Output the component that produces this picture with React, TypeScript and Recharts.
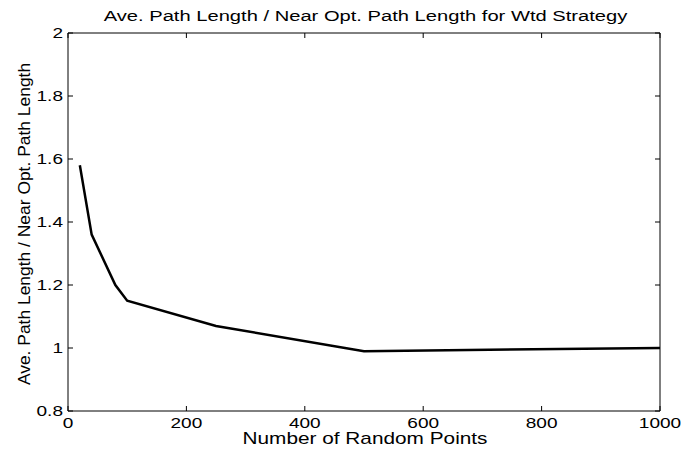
import React from 'react';
import { LineChart, Line, XAxis, YAxis, ReferenceArea } from 'recharts';

const numPoints = [20, 40, 80, 100, 250, 500, 1000];
const ratio = [1.58, 1.36, 1.2, 1.15, 1.07, 0.99, 1.0];
const xTicks = [0, 200, 400, 600, 800, 1000];
const yTicks = [0.8, 1, 1.2, 1.4, 1.6, 1.8, 2];

const data = numPoints.map((n, i) => ({ n, r: ratio[i] }));

const FONT = '"Liberation Sans", Arial, Helvetica, sans-serif';
const fmtY = (v: number) => String(+v.toFixed(1));

const W = 683;
const H = 450;
const M = { top: 33, right: 23, left: 68, bottom: 39 };
const PLOT = { left: M.left, top: M.top, right: W - M.right, bottom: H - M.bottom };
const TICK_LEN = 5;
const SX = 1.27;

const XTick = (props: any) => {
  const { x, payload } = props;
  return (
    <g>
      <line x1={x} x2={x} y1={PLOT.bottom} y2={PLOT.bottom - TICK_LEN} stroke="#000" />
      <line x1={x} x2={x} y1={PLOT.top} y2={PLOT.top + TICK_LEN} stroke="#000" />
      <text
        transform={`translate(${x},${PLOT.bottom + 17}) scale(${SX},1)`}
        textAnchor="middle"
        fontSize={15}
        fontFamily={FONT}
        fill="#000"
      >
        {payload.value}
      </text>
    </g>
  );
};

const YTick = (props: any) => {
  const { y, payload } = props;
  return (
    <g>
      <line x1={PLOT.left} x2={PLOT.left + TICK_LEN} y1={y} y2={y} stroke="#000" />
      <line x1={PLOT.right} x2={PLOT.right - TICK_LEN} y1={y} y2={y} stroke="#000" />
      <text
        transform={`translate(${PLOT.left - 5},${y + 5.3}) scale(${SX},1)`}
        textAnchor="end"
        fontSize={15}
        fontFamily={FONT}
        fill="#000"
      >
        {fmtY(payload.value)}
      </text>
    </g>
  );
};

export default function App() {
  return (
    <div style={{ position: 'absolute', left: 0, top: 0, width: W, height: H, background: '#fff' }}>
      <LineChart width={W} height={H} data={data} margin={{ top: M.top, right: M.right, left: 0, bottom: 0 }}>
        <XAxis
          dataKey="n"
          type="number"
          domain={[0, 1000]}
          ticks={xTicks}
          height={M.bottom}
          tickLine={false}
          tickSize={0}
          axisLine={false}
          tick={<XTick />}
          interval={0}
        />
        <YAxis
          type="number"
          domain={[0.8, 2]}
          ticks={yTicks}
          width={M.left}
          tickLine={false}
          tickSize={0}
          axisLine={false}
          tick={<YTick />}
          interval={0}
        />
        <ReferenceArea
          x1={0}
          x2={1000}
          y1={0.8}
          y2={2}
          fill="none"
          fillOpacity={0}
          stroke="#000"
          strokeWidth={1}
          strokeOpacity={1}
          ifOverflow="visible"
        />
        <Line
          type="linear"
          dataKey="r"
          stroke="#000"
          strokeWidth={2.5}
          dot={false}
          isAnimationActive={false}
        />
      </LineChart>
      <svg
        width={W}
        height={H}
        style={{ position: 'absolute', left: 0, top: 0, pointerEvents: 'none' }}
      >
        <text
          transform={`translate(365.5,21) scale(1.3,1)`}
          textAnchor="middle"
          fontSize={15.5}
          fontFamily={FONT}
          fill="#000"
        >
          Ave. Path Length / Near Opt. Path Length for Wtd Strategy
        </text>
        <text
          transform={`translate(365,444) scale(1.3,1)`}
          textAnchor="middle"
          fontSize={16}
          fontFamily={FONT}
          fill="#000"
        >
          Number of Random Points
        </text>
        <text
          transform={`translate(29.5,224) rotate(-90) scale(1.09,1)`}
          textAnchor="middle"
          fontSize={16}
          fontFamily={FONT}
          fill="#000"
        >
          Ave. Path Length / Near Opt. Path Length
        </text>
      </svg>
    </div>
  );
}
